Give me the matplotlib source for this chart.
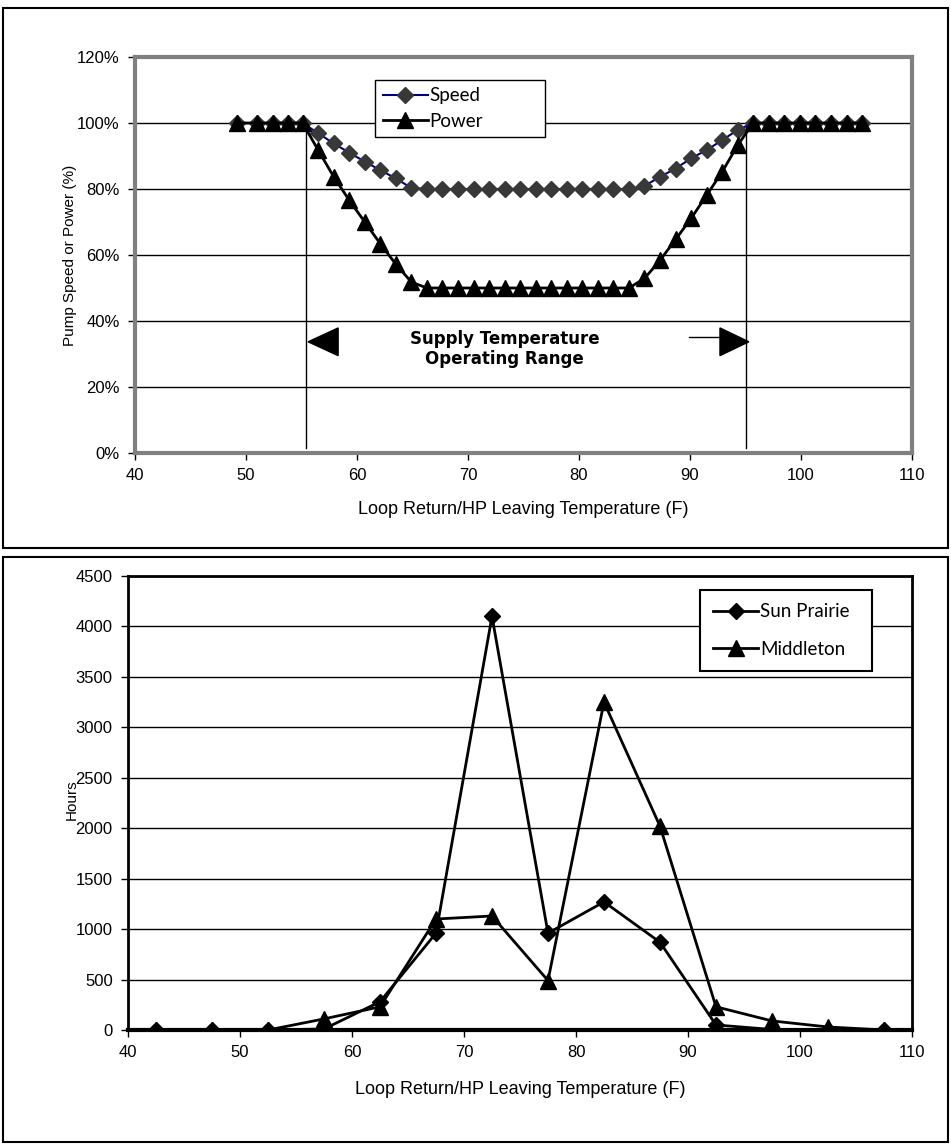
import matplotlib
matplotlib.use('Agg')
import matplotlib.pyplot as plt
from matplotlib.patches import Rectangle, Polygon

# ---------------- data ----------------
temps = [49.2, 51.0, 52.4, 53.8, 55.1, 56.5, 57.9, 59.3, 60.7, 62.1, 63.5, 64.9,
         66.3, 67.7, 69.1, 70.5, 71.9, 73.3, 74.7, 76.1, 77.5, 78.9, 80.3, 81.7,
         83.1, 84.5, 85.9, 87.3, 88.7, 90.1, 91.5, 92.9, 94.3, 95.7, 97.1, 98.5,
         99.9, 101.3, 102.7, 104.1, 105.5]
speed = [100, 100, 100, 100, 100, 96.9, 93.8, 91.0, 88.3, 85.7, 83.2, 80.3,
         80, 80, 80, 80, 80, 80, 80, 80, 80, 80, 80, 80,
         80, 80, 80.9, 83.7, 86.2, 89.3, 91.8, 94.8, 97.9, 100, 100, 100,
         100, 100, 100, 100, 100]
power = [100, 100, 100, 100, 100, 91.8, 83.7, 76.6, 70.0, 63.4, 57.2, 51.8,
         50, 50, 50, 50, 50, 50, 50, 50, 50, 50, 50, 50,
         50, 50, 52.9, 58.4, 64.7, 71.1, 78.1, 85.2, 93.3, 100, 100, 100,
         100, 100, 100, 100, 100]

bins = [42.5, 47.5, 52.5, 57.5, 62.5, 67.5, 72.5, 77.5, 82.5, 87.5, 92.5, 97.5, 102.5, 107.5]
sun_prairie = [0, 0, 0, 10, 280, 960, 4100, 960, 1270, 870, 50, 5, 0, 0]
middleton = [0, 0, 0, 110, 230, 1100, 1130, 490, 3250, 2020, 230, 90, 30, 0]

top_yticks = [0, 20, 40, 60, 80, 100, 120]
top_ylabels = ['0%', '20%', '40%', '60%', '80%', '100%', '120%']
xticks = [40, 50, 60, 70, 80, 90, 100, 110]
bot_yticks = [0, 500, 1000, 1500, 2000, 2500, 3000, 3500, 4000, 4500]

range_lo, range_hi = 55.4, 95.0

# ---------------- layout ----------------
W, H = 951, 1146
fig = plt.figure(figsize=(W / 100, H / 100), dpi=100)


def rect(l, t, r, b):
    return [l / W, 1 - b / H, (r - l) / W, (b - t) / H]


tick_font = {'family': ['Liberation Sans', 'DejaVu Sans'], 'size': 12}
leg_font = ['Lato', 'DejaVu Sans']
lab_font = ['Liberation Sans', 'DejaVu Sans']

# outer boxes
for (l, t, r, b) in [(3, 8, 948, 548), (3, 557, 948, 1142)]:
    fig.add_artist(Rectangle((l / W, 1 - b / H), (r - l) / W, (b - t) / H,
                             transform=fig.transFigure, fill=False,
                             edgecolor='black', linewidth=1.5))

# ---------------- top chart ----------------
T_L, T_T, T_R, T_B = 135, 57, 912, 453
ax1 = fig.add_axes(rect(T_L, T_T, T_R, T_B))
ax1.set_xlim(40, 110)
ax1.set_ylim(0, 120)
ax1.set_yticks(top_yticks)
ax1.set_yticklabels(top_ylabels, fontdict=tick_font)
ax1.set_xticks(xticks)
ax1.set_xticklabels([str(v) for v in xticks], fontdict=tick_font)
for s in ax1.spines.values():
    s.set_color('#808080')
    s.set_linewidth(3)
ax1.tick_params(direction='out', length=5, width=1, color='black', pad=6)
for v in top_yticks:
    ax1.axhline(v, color='black', lw=1, zorder=1)

ax1.plot([range_lo, range_lo], [1.5, 100], color='black', lw=1, zorder=2)
ax1.plot([range_hi, range_hi], [1.5, 100], color='black', lw=1, zorder=2)

ax1.plot(temps, speed, color='#000080', lw=1.5, marker='D', ms=8.5,
         mfc='#383838', mec='#383838', zorder=4, label='Speed')
ax1.plot(temps, power, color='black', lw=2, marker='^', ms=12,
         mfc='black', mec='black', zorder=5, label='Power')

# operating range arrows
ax1.add_patch(Polygon([(55.6, 33.7), (58.3, 37.9), (58.3, 29.5)], closed=True,
                      facecolor='black', edgecolor='black', zorder=3))
ax1.add_patch(Polygon([(95.3, 33.7), (92.7, 37.9), (92.7, 29.5)], closed=True,
                      facecolor='black', edgecolor='black', zorder=3))
ax1.plot([89.9, 92.7], [35.3, 35.3], color='black', lw=1, zorder=3)
ax1.text(73.3, 31.6, 'Supply Temperature\nOperating Range', ha='center',
         va='center', fontsize=12, fontweight='bold',
         family=['DejaVu Sans'], linespacing=1.15, zorder=3)

tw, th = T_R - T_L, T_B - T_T
leg1 = ax1.legend(loc='upper left', mode='expand',
                  bbox_to_anchor=((375 - T_L) / tw, 1 - (138 - T_T) / th,
                                  (545 - 375) / tw, (138 - 80) / th),
                  prop={'family': leg_font, 'size': 13.5}, frameon=True,
                  fancybox=False, edgecolor='black', framealpha=1,
                  handlelength=2.4, handletextpad=0.1, borderpad=0.4,
                  labelspacing=0.45, borderaxespad=0)
leg1.get_frame().set_linewidth(1)

fig.text(70 / W, 1 - 255 / H, 'Pump Speed or Power (%)', rotation=90,
         ha='center', va='center', fontsize=11, family=lab_font)
fig.text(523 / W, 1 - 510 / H, 'Loop Return/HP Leaving Temperature (F)',
         ha='center', va='center', fontsize=13, family=lab_font)

# ---------------- bottom chart ----------------
B_L, B_T, B_R, B_B = 128, 576, 912, 1030
ax2 = fig.add_axes(rect(B_L, B_T, B_R, B_B))
ax2.set_xlim(40, 110)
ax2.set_ylim(0, 4500)
ax2.set_yticks(bot_yticks)
ax2.set_yticklabels([str(v) for v in bot_yticks], fontdict=tick_font)
ax2.set_xticks(xticks)
ax2.set_xticklabels([str(v) for v in xticks], fontdict=tick_font)
for s in ax2.spines.values():
    s.set_color('black')
    s.set_linewidth(2)
ax2.spines['bottom'].set_linewidth(3)
ax2.tick_params(direction='out', length=5, width=1, color='black', pad=6)
for v in bot_yticks:
    ax2.axhline(v, color='black', lw=1, zorder=1)

ax2.plot(bins, sun_prairie, color='black', lw=2, marker='D', ms=8,
         mfc='black', mec='black', zorder=4, label='Sun Prairie')
ax2.plot(bins, middleton, color='black', lw=2, marker='^', ms=11,
         mfc='black', mec='black', zorder=5, label='Middleton')

bw, bh = B_R - B_L, B_B - B_T
leg2 = ax2.legend(loc='upper left', mode='expand',
                  bbox_to_anchor=((700 - B_L) / bw, 1 - (680 - B_T) / bh,
                                  (872 - 700) / bw, (680 - 590) / bh),
                  prop={'family': leg_font, 'size': 13.5}, frameon=True,
                  fancybox=False, edgecolor='black', framealpha=1,
                  handlelength=2.4, handletextpad=0.1, borderpad=0.7,
                  labelspacing=1.1, borderaxespad=0)
leg2.get_frame().set_linewidth(1.5)

fig.text(72 / W, 1 - 800 / H, 'Hours', rotation=90, ha='center', va='center',
         fontsize=11, family=lab_font)
fig.text(520 / W, 1 - 1090 / H, 'Loop Return/HP Leaving Temperature (F)',
         ha='center', va='center', fontsize=13, family=lab_font)

fig.savefig('out.png', dpi=100)
